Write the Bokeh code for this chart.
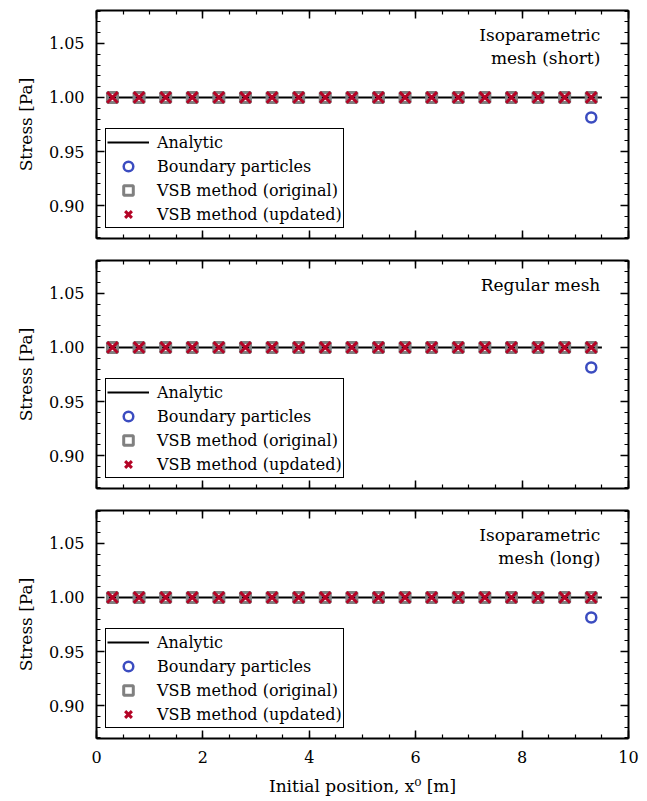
from bokeh.plotting import figure
from bokeh.layouts import column
from bokeh.models import (LinearAxis, Range1d, Legend, LegendItem, Label,
                          SingleIntervalTicker, NumeralTickFormatter,
                          CustomJSTickFormatter)
from bokeh.embed import file_html
from bokeh.resources import INLINE

# ---- data ----
x_particles = [0.3, 0.8, 1.3, 1.8, 2.3, 2.8, 3.3, 3.8, 4.3, 4.8,
               5.3, 5.8, 6.3, 6.8, 7.3, 7.8, 8.3, 8.8, 9.3]
x_analytic = [0.2, 9.5]
y_analytic = [1.0, 1.0]
boundary_short = [1.0] * 18 + [0.9815]
boundary_regular = [1.0] * 18 + [0.9815]
boundary_long = [1.0] * 18 + [0.9815]
vsb_original = [1.0] * 19
vsb_updated = [1.0] * 19
panel_titles = [["Isoparametric", "mesh (short)"], ["Regular mesh"], ["Isoparametric", "mesh (long)"]]
boundary_sets = [boundary_short, boundary_regular, boundary_long]

FONT = "DejaVu Serif"
BLUE = "#3b4cc0"
RED = "#b40426"
GRAY = "#808080"

def style_axis(ax, show_labels):
    ax.axis_line_width = 2
    ax.axis_line_color = "black"
    ax.major_tick_in = 8
    ax.major_tick_out = 0
    ax.minor_tick_in = 4
    ax.minor_tick_out = 0
    ax.major_tick_line_width = 1.5
    ax.minor_tick_line_width = 1.2
    ax.major_tick_line_color = "black"
    ax.minor_tick_line_color = "black"
    ax.major_label_text_font = FONT
    ax.major_label_text_font_size = "16px"
    ax.major_label_text_color = "black"
    ax.major_label_standoff = 12 if show_labels else 0
    if not show_labels:
        ax.formatter = CustomJSTickFormatter(code="return ''")
    ax.axis_label_text_font = FONT
    ax.axis_label_text_font_style = "normal"
    ax.axis_label_text_font_size = "17px"
    ax.axis_label_text_color = "black"

figs = []
for i in range(3):
    last = (i == 2)
    p = figure(frame_width=532, frame_height=228, output_backend="svg",
               toolbar_location=None,
               x_range=Range1d(0, 10), y_range=Range1d(0.8695, 1.0805),
               min_border_left=96, min_border_right=12,
               min_border_top=10 if i == 0 else 11,
               min_border_bottom=56 if last else 11,
               background_fill_color="white", border_fill_color="white",
               outline_line_color=None)
    p.grid.visible = False

    p.xaxis.ticker = SingleIntervalTicker(interval=2, num_minor_ticks=4)
    p.yaxis.ticker = SingleIntervalTicker(interval=0.05, num_minor_ticks=5)
    p.yaxis.formatter = NumeralTickFormatter(format="0.00")
    style_axis(p.xaxis[0], last)
    style_axis(p.yaxis[0], True)
    p.yaxis.axis_label = "Stress [Pa]"
    p.yaxis.axis_label_standoff = 10
    if last:
        p.xaxis.axis_label = "Initial position, x⁰ [m]"
        p.xaxis.axis_label_standoff = 10

    top = LinearAxis(ticker=SingleIntervalTicker(interval=2, num_minor_ticks=4))
    style_axis(top, False)
    p.add_layout(top, "above")
    right = LinearAxis(ticker=SingleIntervalTicker(interval=0.05, num_minor_ticks=5))
    style_axis(right, False)
    p.add_layout(right, "right")

    r_line = p.line(x_analytic, y_analytic, line_color="black", line_width=2)
    r_circ = p.scatter(x_particles, boundary_sets[i], marker="circle", size=10,
                       fill_color=None, line_color=BLUE, line_width=2.5)
    r_sq = p.scatter(x_particles, vsb_original, marker="square", size=10,
                     fill_color=None, line_color=GRAY, line_width=3)
    r_x = p.scatter(x_particles, vsb_updated, marker="x", size=15,
                    line_color=RED, line_width=3)

    legend = Legend(items=[
        LegendItem(label="Analytic", renderers=[r_line]),
        LegendItem(label="Boundary particles", renderers=[r_circ]),
        LegendItem(label="VSB method (original)", renderers=[r_sq]),
        LegendItem(label="VSB method (updated)", renderers=[r_x]),
    ], location=(9, 10))
    legend.label_text_font = FONT
    legend.label_text_font_size = "16px"
    legend.label_text_color = "black"
    legend.border_line_color = "black"
    legend.border_line_width = 1.5
    legend.border_line_alpha = 1
    legend.background_fill_alpha = 1
    legend.glyph_width = 42
    legend.glyph_height = 24
    legend.label_height = 20
    legend.label_standoff = 8
    legend.spacing = 0
    legend.padding = 1
    legend.margin = 0
    p.add_layout(legend, "center")

    lines = panel_titles[i]
    ys = [1.0574, 1.0361]
    for j, t in enumerate(lines):
        p.add_layout(Label(x=9.47, y=ys[j], text=t, text_align="right",
                           text_baseline="middle", text_font=FONT,
                           text_font_size="17px", text_color="black"))
    figs.append(p)

layout = column(*figs, spacing=0)
open("out.html", "w").write(file_html(layout, INLINE))
